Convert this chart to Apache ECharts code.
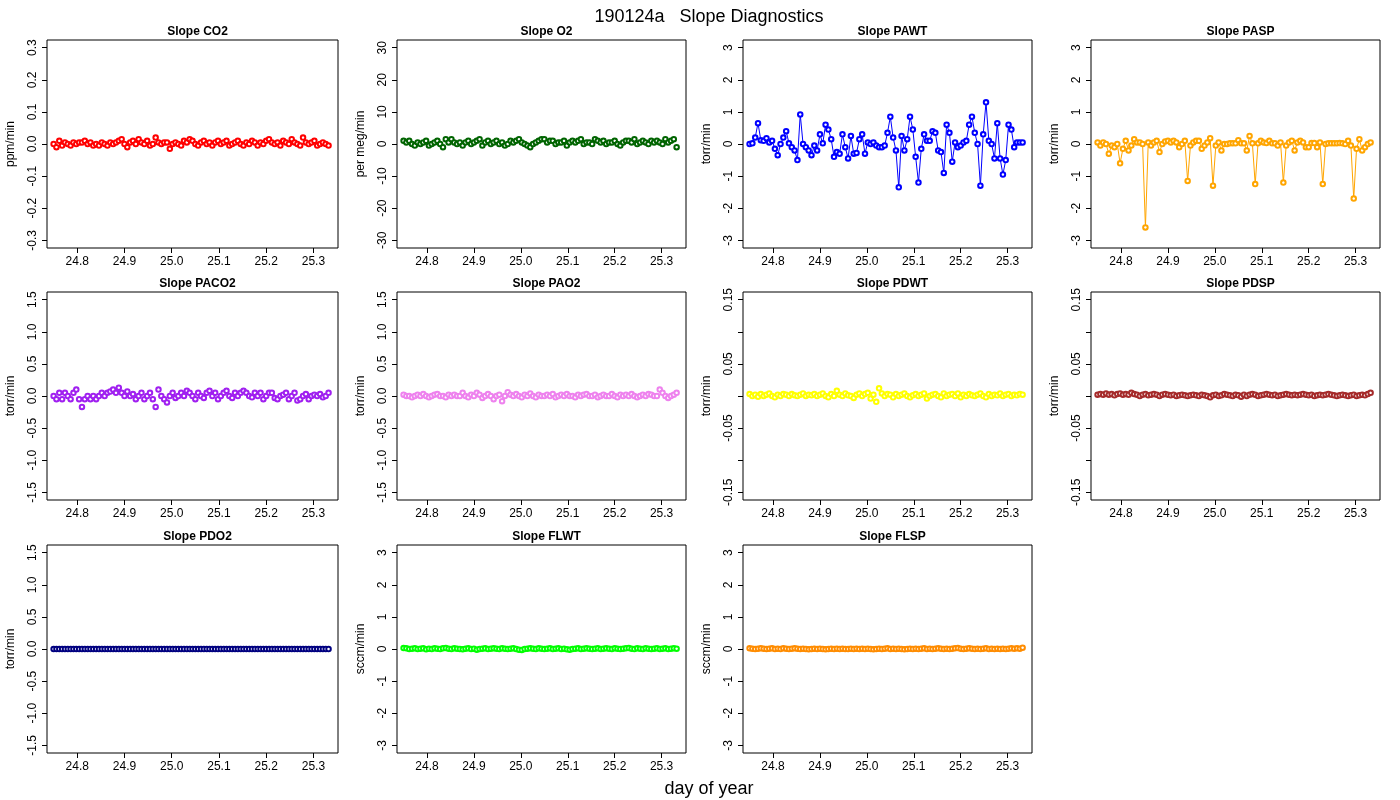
<!DOCTYPE html>
<html><head><meta charset="utf-8">
<script src="https://cdn.jsdelivr.net/npm/echarts@6/dist/echarts.min.js"></script>
<style>html,body{margin:0;padding:0;background:#fff}#c{width:1400px;height:800px}</style>
</head><body><div id="c"></div>
<script>
const dayOfYear = [
24.750,24.756,24.762,24.768,24.774,24.780,24.786,24.792,24.798,24.804,
24.810,24.816,24.822,24.828,24.834,24.840,24.846,24.852,24.858,24.864,
24.870,24.876,24.882,24.888,24.894,24.900,24.906,24.912,24.918,24.924,
24.930,24.936,24.942,24.948,24.954,24.960,24.966,24.972,24.978,24.984,
24.990,24.996,25.002,25.008,25.014,25.020,25.026,25.032,25.038,25.044,
25.050,25.056,25.062,25.068,25.074,25.080,25.086,25.092,25.098,25.104,
25.110,25.116,25.122,25.128,25.134,25.140,25.146,25.152,25.158,25.164,
25.170,25.176,25.182,25.188,25.194,25.200,25.206,25.212,25.218,25.224,
25.230,25.236,25.242,25.248,25.254,25.260,25.266,25.272,25.278,25.284,
25.290,25.296,25.302,25.308,25.314,25.320,25.326,25.332];
const xTicks = [24.8,24.9,25.0,25.1,25.2,25.3];

const slopeCO2 = [0.0,-0.01,0.01,-0.005,0.005,0,-0.005,0.005,0.0,0.005,
0.005,0.01,0.0,0.005,-0.005,0.0,-0.005,0.005,0.0,-0.005,
0.005,0.0,0.005,0.01,0.015,0.0,-0.01,0.005,0.01,0.0,
0.015,0.005,0.0,0.01,-0.005,0.0,0.02,0.005,0.0,0.005,
0.005,-0.015,0.0,0.005,0.0,-0.005,0.01,0.005,0.015,0.01,
0.0,-0.005,0.005,0.01,0.0,0.005,-0.005,0.005,0.01,0.0,
0.005,0.01,-0.005,0.0,0.005,0.01,0.0,-0.005,0.005,0.0,
0.01,0.005,-0.005,0.005,0.0,0.01,0.015,0.005,0.0,0.005,
-0.005,0.01,0.005,0.0,0.015,0.005,0.0,-0.005,0.02,0.005,
0.0,0.005,0.01,-0.005,0.0,0.005,0.0,-0.005];
const slopeO2 = [1,0.5,1,0,-0.5,0.5,0,0.5,1,-0.5,
0,0.5,1,0,-1,1.5,0.5,1.5,0.5,0,
0.5,-0.5,0.5,1,0,0.5,1,1.5,-0.5,0.5,
1,0,0.5,1,0,0.5,-0.5,0,1,0.5,
1,1.5,0.5,0,-0.5,-1,0,0.5,1,1.5,
1.5,0.5,1,1,0,0.5,0.5,1,-0.5,0.5,
1,0.5,1,1.5,0,0.5,0.5,0,1.5,1,
0.5,1,0,0.5,0.5,1,0,-0.5,0.5,1,
1,0.5,1.5,0,0.5,1,0.5,0,1,0.5,
1,0.5,0,1.5,0.5,1,1.5,-1];
const slopePAWT = [0,0.02,0.2,0.65,0.12,0.1,0.18,0.05,0.1,-0.15,
-0.35,0,0.2,0.4,0.02,-0.1,-0.2,-0.5,0.92,0,
-0.1,-0.2,-0.35,-0.05,-0.2,0.3,0.02,0.6,0.45,0.15,
-0.4,-0.25,-0.3,0.3,-0.1,-0.45,0.25,-0.3,-0.28,0.15,
0.3,-0.3,0.05,0,0.05,-0.05,-0.1,-0.1,-0.05,0.35,
0.85,0.2,-0.2,-1.35,0.25,-0.2,0.15,0.85,0.45,-0.4,
-1.2,-0.15,0.3,0.1,0.1,0.4,0.35,-0.2,-0.25,-0.9,
0.6,0.35,-0.55,0.05,-0.1,-0.05,0.05,0.1,0.6,0.85,
0.35,0,-1.3,0.3,1.3,0.1,0,-0.45,0.65,-0.45,
-0.95,-0.5,0.6,0.45,-0.1,0.05,0.05,0.05];
const slopePASP = [0.05,-0.05,0.05,0,-0.3,-0.05,-0.1,0,-0.6,-0.15,
0.1,-0.2,-0.05,0.15,0.05,0.05,0,-2.6,0.05,-0.05,
0.05,0.1,-0.25,0,0.08,0.1,0.05,0.1,0.05,-0.1,
0,0.1,-1.15,-0.05,0.05,0.1,0.1,-0.15,-0.05,0.05,
0.18,-1.3,-0.05,0.05,-0.2,0,0,0.02,0.02,0.02,
0.12,0.02,0.02,-0.2,0.25,0.02,-1.25,0.02,0.1,0.05,
0.03,0.1,0.02,0.02,-0.05,0.05,-1.2,-0.05,0.05,0.1,
-0.2,0.05,0.1,0.05,-0.1,-0.1,0.03,0.03,-0.1,0.05,
-1.25,0,0.02,0.02,0.02,0.02,0.03,0.02,0,0.1,
-0.05,-1.7,-0.15,0.15,-0.2,-0.1,0,0.05];
const slopePACO2 = [0.0,-0.05,0.05,-0.05,0.05,0.0,-0.05,0.05,0.1,-0.05,
-0.17,-0.05,0.0,-0.05,0.0,-0.05,0.0,0.05,0.0,0.05,
0.07,0.1,0.05,0.13,0.05,0.0,0.07,0.0,0.03,-0.05,
0.0,0.05,-0.05,0.0,0.05,-0.05,-0.17,0.1,0.0,-0.05,
-0.1,0.0,0.05,-0.03,0.0,0.05,0.0,0.08,0.05,0.0,
-0.05,0.05,0.0,-0.03,0.05,0.08,0.0,0.05,-0.05,0.0,
0.05,0.08,0.0,-0.03,0.05,0.0,0.05,0.08,0.05,0.0,
-0.02,0.05,0.0,0.05,-0.05,0.0,0.05,0.05,-0.03,-0.05,
0.0,0.02,0.05,-0.05,0.0,0.05,-0.07,-0.05,0.0,0.03,
-0.05,0.0,0.02,0.0,0.03,-0.02,0.0,0.05];
const slopePAO2 = [0.02,0.0,0.0,-0.02,0.0,0.02,0.0,0.03,0.0,-0.02,
0.0,0.02,0.03,0.0,0.0,-0.02,0.02,0.0,0.02,0.0,
0.0,0.05,0.0,-0.02,0.02,0.0,0.05,0.02,-0.03,0.0,
0.03,0.0,-0.05,0.0,0.02,-0.08,0.0,0.06,0.02,0.0,
0.03,0.0,-0.02,0.02,0.0,0.04,0.0,-0.02,0.02,0.0,
0.0,0.02,0.0,0.03,-0.02,0.0,0.02,0.0,0.03,0.0,
0.0,-0.02,0.02,0.0,0.02,0.03,0.0,0.0,0.02,-0.02,
0.0,0.02,0.0,0.0,0.03,0.0,-0.02,0.02,0.0,0.02,
0.0,0.03,0.0,-0.02,0.0,0.02,0.0,0.03,0.02,0.0,
0.0,0.1,0.05,0.0,-0.03,0.0,0.02,0.05];
const slopePDWT = [0.003,0.0,0.002,-0.001,0.003,0.0,0.002,0.004,0.0,-0.002,
0.002,0.0,0.003,0.002,0.0,0.003,0.001,0.0,0.002,0.004,
0.0,0.002,0.001,0.003,0.0,0.002,0.004,0.0,-0.002,0.003,
0.0,0.008,0.002,0.0,0.004,0.001,0.0,-0.003,0.002,0.004,
0.0,0.003,0.005,-0.004,0.002,-0.009,0.012,0.004,0.0,0.003,
0.002,-0.002,0.003,0.0,0.002,0.004,0.0,-0.002,0.001,0.003,
0.0,0.002,0.004,-0.004,0.0,0.002,0.003,0.0,-0.002,0.004,
0.0,0.002,0.003,0.0,0.004,-0.002,0.002,0.0,0.003,0.001,
0.0,0.002,0.004,0.0,-0.002,0.003,0.0,0.002,0.001,0.004,
0.0,0.002,0.003,0.0,0.002,0.001,0.003,0.002];
const slopePDSP = [0.002,0.003,0.002,0.004,0.002,0.003,0.001,0.003,0.004,0.002,
0.003,0.002,0.005,0.003,0.002,0.0,0.002,0.003,0.001,0.002,
0.003,0.002,0.0,0.002,0.003,0.002,0.001,0.002,0.0,0.001,
0.002,0.001,0.0,0.001,0.002,0.001,0.0,0.002,0.001,0.0,
-0.002,0.001,0.002,0.0,0.001,0.003,0.002,0.001,0.0,0.002,
0.001,-0.001,0.002,0.0,0.002,0.003,0.002,0.0,0.001,0.002,
0.003,0.002,0.001,0.002,0.0,0.001,0.002,0.003,0.002,0.001,
0.002,0.001,0.002,0.003,0.002,0.001,0.002,0.0,0.001,0.002,
0.001,0.002,0.003,0.002,0.001,0.0,0.001,0.002,0.001,0.0,
0.001,0.002,0.0,0.001,0.002,0.001,0.003,0.005];
const slopePDO2 = [0,0,0,0,0,0,0,0,0,0, 0,0,0,0,0,0,0,0,0,0, 0,0,0,0,0,0,0,0,0,0,
0,0,0,0,0,0,0,0,0,0, 0,0,0,0,0,0,0,0,0,0, 0,0,0,0,0,0,0,0,0,0,
0,0,0,0,0,0,0,0,0,0, 0,0,0,0,0,0,0,0,0,0, 0,0,0,0,0,0,0,0,0,0, 0,0,0,0,0,0,0,0];
const slopeFLWT = [0.03,0.02,0.0,0.01,0.02,0.0,0.01,0.02,-0.01,0.01,
0.0,0.02,0.01,0.0,0.02,0.03,0.01,0.0,0.02,0.01,
0.0,-0.01,0.01,0.02,0.0,0.01,-0.02,0.0,0.01,0.02,
0.0,0.01,0.02,0.01,0.0,0.02,0.01,0.0,0.01,0.02,
0.0,-0.02,-0.03,0.0,0.01,0.02,0.01,0.0,0.02,0.01,
0.0,0.01,0.02,0.0,0.01,0.02,0.0,0.01,-0.01,-0.02,
0.0,0.01,0.02,0.0,0.01,0.02,0.01,0.0,0.01,0.02,
0.0,0.01,0.02,0.01,0.0,0.02,0.01,0.0,0.01,0.02,
0.03,0.01,0.0,0.02,0.01,0.0,0.02,0.01,0.0,0.01,
0.02,0.0,0.01,0.02,0.0,0.01,0.02,0.01];
const slopeFLSP = [0.02,0.01,0.0,0.01,0.02,0.01,0.0,0.01,0.02,0.0,
0.01,0.0,0.02,0.01,0.0,0.01,0.02,0.01,0.0,0.01,
0.0,-0.01,0.0,0.01,0.0,0.01,0.0,-0.01,0.0,0.01,
0.0,0.01,0.0,0.01,0.0,0.0,0.01,0.0,0.01,0.0,
0.01,0.0,0.01,0.0,-0.01,0.0,0.01,0.0,0.01,0.02,
0.0,0.01,0.0,0.01,0.0,-0.01,0.0,0.01,0.0,0.01,
0.0,0.01,0.02,0.0,0.01,0.0,0.01,0.02,0.01,0.0,
0.01,0.0,0.01,0.02,0.03,0.01,0.0,0.01,0.02,0.01,
0.0,0.01,0.0,0.01,0.02,0.0,0.01,0.0,0.01,0.0,
0.01,0.0,0.01,0.02,0.01,0.02,0.01,0.04];

const panels = [
 {title:'Slope CO2', unit:'ppm/min', data:slopeCO2, color:'#ff0000', lim:0.324, ticks:[-0.3,-0.2,-0.1,0,0.1,0.2,0.3], labels:[-0.3,-0.2,-0.1,0,0.1,0.2,0.3], dec:1, line:false},
 {title:'Slope O2', unit:'per meg/min', data:slopeO2, color:'#006400', lim:32.4, ticks:[-30,-20,-10,0,10,20,30], labels:[-30,-20,-10,0,10,20,30], dec:0, line:false},
 {title:'Slope PAWT', unit:'torr/min', data:slopePAWT, color:'#0000ff', lim:3.24, ticks:[-3,-2,-1,0,1,2,3], labels:[-3,-2,-1,0,1,2,3], dec:0, line:true},
 {title:'Slope PASP', unit:'torr/min', data:slopePASP, color:'#ffa500', lim:3.24, ticks:[-3,-2,-1,0,1,2,3], labels:[-3,-2,-1,0,1,2,3], dec:0, line:true},
 {title:'Slope PACO2', unit:'torr/min', data:slopePACO2, color:'#a020f0', lim:1.62, ticks:[-1.5,-1,-0.5,0,0.5,1,1.5], labels:[-1.5,-1,-0.5,0,0.5,1,1.5], dec:1, line:false},
 {title:'Slope PAO2', unit:'torr/min', data:slopePAO2, color:'#ee82ee', lim:1.62, ticks:[-1.5,-1,-0.5,0,0.5,1,1.5], labels:[-1.5,-1,-0.5,0,0.5,1,1.5], dec:1, line:false},
 {title:'Slope PDWT', unit:'torr/min', data:slopePDWT, color:'#ffff00', lim:0.162, ticks:[-0.15,-0.1,-0.05,0,0.05,0.1,0.15], labels:[-0.15,-0.05,0.05,0.15], dec:2, line:false},
 {title:'Slope PDSP', unit:'torr/min', data:slopePDSP, color:'#a52a2a', lim:0.162, ticks:[-0.15,-0.1,-0.05,0,0.05,0.1,0.15], labels:[-0.15,-0.05,0.05,0.15], dec:2, line:false},
 {title:'Slope PDO2', unit:'torr/min', data:slopePDO2, color:'#000080', lim:1.62, ticks:[-1.5,-1,-0.5,0,0.5,1,1.5], labels:[-1.5,-1,-0.5,0,0.5,1,1.5], dec:1, line:false},
 {title:'Slope FLWT', unit:'sccm/min', data:slopeFLWT, color:'#00ff00', lim:3.24, ticks:[-3,-2,-1,0,1,2,3], labels:[-3,-2,-1,0,1,2,3], dec:0, line:false},
 {title:'Slope FLSP', unit:'sccm/min', data:slopeFLSP, color:'#ff8c00', lim:3.24, ticks:[-3,-2,-1,0,1,2,3], labels:[-3,-2,-1,0,1,2,3], dec:0, line:false}
];
const colLeft=[47,397,743,1091], colW=[291,289,289,289], rowTop=[40,292,545], H=208;
const FONT='Liberation Sans, Arial, sans-serif';
const grid=[],xAxis=[],yAxis=[],series=[],title=[
 {text:'190124a   Slope Diagnostics',left:704,top:3,textAlign:'center',textStyle:{fontSize:18,fontWeight:'normal',fontFamily:FONT,color:'#000'}},
 {text:'day of year',left:704,top:775,textAlign:'center',textStyle:{fontSize:18,fontWeight:'normal',fontFamily:FONT,color:'#000'}}
];
panels.forEach((p,i)=>{
 const r=Math.floor(i/4), c=i%4;
 grid.push({left:colLeft[c],top:rowTop[r],width:colW[c],height:H,show:true,borderColor:'#000',borderWidth:1,containLabel:false});
 title.push({text:p.title,left:colLeft[c]+colW[c]/2,top:rowTop[r]-14,textAlign:'center',textStyle:{fontSize:12,fontWeight:'bold',fontFamily:FONT,color:'#000'},padding:[0,5,0,5]});
 xAxis.push({type:'value',gridIndex:i,min:24.736,max:25.352,splitLine:{show:false},axisLine:{show:false,onZero:false},position:'bottom',
  axisTick:{length:5,inside:false,lineStyle:{color:'#000'},customValues:xTicks},
  axisLabel:{customValues:xTicks,color:'#000',fontSize:12,fontFamily:FONT,margin:8,formatter:v=>v.toFixed(1)}});
 yAxis.push({type:'value',gridIndex:i,min:-p.lim,max:p.lim,splitLine:{show:false},axisLine:{show:false,onZero:false},position:'left',
  name:p.unit,nameLocation:'middle',nameGap:30,nameTextStyle:{fontSize:12,fontFamily:FONT,color:'#000'},
  axisTick:{length:5,inside:false,lineStyle:{color:'#000'},customValues:p.ticks},
  axisLabel:{customValues:p.labels,rotate:90,color:'#000',fontSize:12,fontFamily:FONT,margin:8,formatter:v=>v.toFixed(p.dec)}});
 series.push({type:'line',xAxisIndex:i,yAxisIndex:i,data:dayOfYear.map((x,k)=>[x,p.data[k]]),
  symbol:'emptyCircle',symbolSize:4.5,showSymbol:true,animation:false,
  itemStyle:{color:p.color,borderColor:p.color,borderWidth:0.8},
  lineStyle:{color:p.color,width:p.line?1:0,opacity:p.line?1:0}});
});
const chart=echarts.init(document.getElementById('c'));
chart.setOption({animation:false,backgroundColor:'#fff',title,grid,xAxis,yAxis,series});
</script></body></html>
